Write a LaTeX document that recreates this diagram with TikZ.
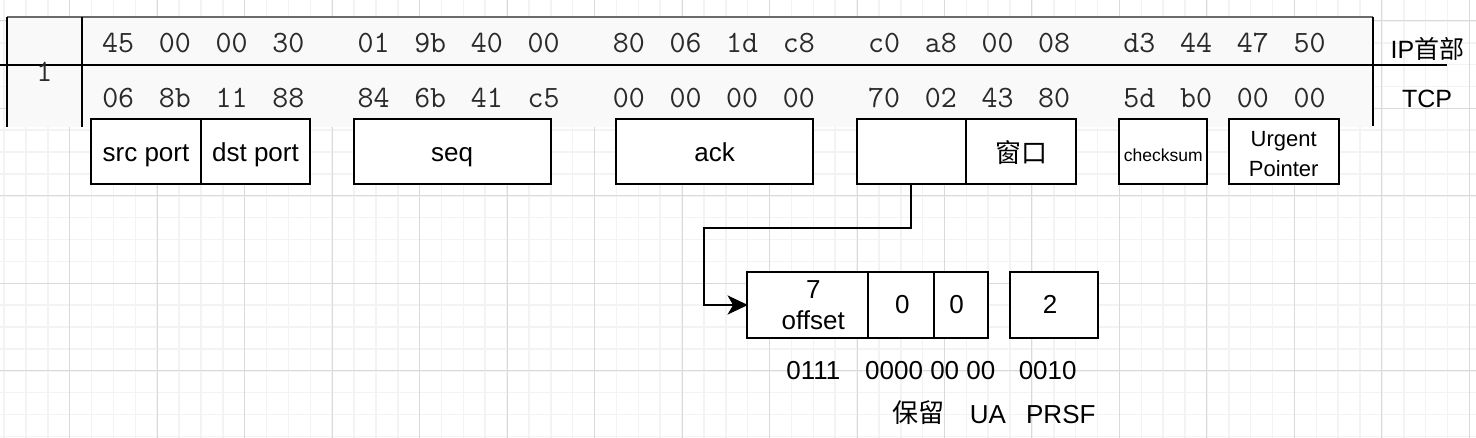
\documentclass[tikz,border=0pt]{standalone}
\usepackage{fontspec}
\setmainfont{Liberation Sans}
\newfontfamily\cjk{Noto Sans CJK SC}
\usetikzlibrary{arrows.meta}
\definecolor{minorg}{HTML}{F3F3F3}
\definecolor{majorg}{HTML}{DADADA}
\definecolor{hexbg}{HTML}{F9F9F9}
\definecolor{hexfg}{HTML}{2A2A2A}
\definecolor{topline}{HTML}{6A6A6A}
\begin{document}
\begin{tikzpicture}[x=1pt,y=-1pt,
  minorgrid/.style={draw=minorg, line width=1.5pt},
  majorgrid/.style={draw=majorg, line width=1pt},
  hex/.style={font=\fontsize{31}{31}\selectfont\ttfamily, text=hexfg, anchor=base, inner sep=0pt},
  lbl/.style={font=\fontsize{26}{30}\selectfont, anchor=base, inner sep=0pt},
  small/.style={font=\fontsize{17.5}{20}\selectfont, anchor=base, inner sep=0pt},
  mid/.style={font=\fontsize{22}{26}\selectfont, anchor=base, inner sep=0pt},
  field/.style={draw, line width=2pt, fill=white, inner sep=0pt, minimum height=65.3pt},
  tline/.style={line width=2pt},
  conn/.style={line width=2pt},
  tip/.style={fill=black, draw=black, line width=1pt, line join=miter}]
\useasboundingbox (0,0) rectangle (1476,438);
\clip (0,0) rectangle (1476,438);
% grid
\foreach \i in {-3,...,64} \draw[minorgrid] ({69.7+\i*21.87},0) -- ({69.7+\i*21.87},438);
\foreach \j in {0,...,19} \draw[minorgrid] (0,{20.9+\j*21.87}) -- (1476,{20.9+\j*21.87});
\foreach \i in {0,...,16} \draw[majorgrid] ({69.7+\i*87.48},0) -- ({69.7+\i*87.48},438);
\foreach \j in {0,...,4} \draw[majorgrid] (0,{20.9+\j*87.48}) -- (1476,{20.9+\j*87.48});
% hex dump block
\fill[hexbg] (7,17) rectangle (1372.7,127);
\draw[topline, line width=1.3pt] (7,17) -- (1372.7,17);
\draw[tline] (7,17) -- (7,127);
\draw[tline] (82,17) -- (82,127);
\draw[tline] (1372.7,17) -- (1372.7,126);
\draw[tline] (0,65) -- (1447,65);
\node[hex] (num) at (44.3,81.7) {1};
\foreach \b [count=\n from 0] in {45,00,00,30,01,9b,40,00,80,06,1d,c8,c0,a8,00,08,d3,44,47,50} {
  \pgfmathsetmacro\hx{118.2+floor(\n/4)*255.3+mod(\n,4)*56.7}
  \node[hex] (ip\n) at (\hx,53) {\b};
}
\foreach \b [count=\n from 0] in {06,8b,11,88,84,6b,41,c5,00,00,00,00,70,02,43,80,5d,b0,00,00} {
  \pgfmathsetmacro\hx{118.2+floor(\n/4)*255.3+mod(\n,4)*56.7}
  \node[hex] (tcp\n) at (\hx,108) {\b};
}
\node[lbl, font=\fontsize{25}{30}\selectfont] (iplbl) at (1427.5,58.3) {IP{\cjk 首部}};
\node[lbl, font=\fontsize{25}{30}\selectfont] (tcplbl) at (1427,107.3) {TCP};
% field boxes
\node[field, minimum width=109.4pt] (src) at (146,151.7) {};
\node[field, minimum width=109.6pt] (dst) at (255.5,151.7) {};
\node[field, minimum width=197pt] (seq) at (452.2,151.7) {};
\node[field, minimum width=197.3pt] (ack) at (714.7,151.7) {};
\node[field, minimum width=109.3pt] (flags) at (911.3,151.7) {};
\node[field, minimum width=110pt] (win) at (1021,151.7) {};
\node[field, minimum width=88.3pt] (chk) at (1163.2,151.7) {};
\node[field, minimum width=110pt] (urg) at (1283.7,151.7) {};
\node[lbl] (srct) at (146,161.7) {src port};
\node[lbl] (dstt) at (255.5,161.7) {dst port};
\node[lbl] (seqt) at (452.2,161.7) {seq};
\node[lbl] (ackt) at (714.7,161.7) {ack};
\node[lbl] (wint) at (1021,163) {\cjk 窗口};
\node[small] (chkt) at (1163.2,161.7) {checksum};
\node[mid] (urgt1) at (1283.7,146.7) {Urgent};
\node[mid] (urgt2) at (1283.7,176.7) {Pointer};
% flag detail boxes
\node[field, minimum width=133.3pt] (off) at (813.3,305) {};
\node[field, minimum width=78.4pt] (z1) at (907.5,305) {};
\node[field, minimum width=54.3pt] (z2) at (961.2,305) {};
\node[field, minimum width=87.7pt] (two) at (1053.8,305) {};
\node[lbl] (offn) at (813.3,298.3) {7};
\node[lbl] (offt) at (813.3,329.3) {offset};
\node[lbl] (z1t) at (902.3,314) {0};
\node[lbl] (z2t) at (956.7,314) {0};
\node[lbl] (twot) at (1050,314) {2};
\node[lbl] (b1) at (813.3,380) {0111};
\node[lbl] (b2) at (930.3,380) {0000 00 00};
\node[lbl] (b3) at (1047.7,380) {0010};
\node[lbl] (r1) at (918.3,422) {\cjk 保留};
\node[lbl] (r2) at (987.8,423.3) {UA};
\node[lbl] (r3) at (1060.8,423.3) {PRSF};
% connector
\coordinate (bend) at (704,228.3);
\coordinate (tipend) at (746.7,305);
\draw[conn] (flags.south) |- (bend) |- (off.west);
\fill[tip] (tipend) -- ++(-18,-8.5) -- ++(5,8.5) -- ++(-5,8.5) -- cycle;
\end{tikzpicture}
\end{document}
